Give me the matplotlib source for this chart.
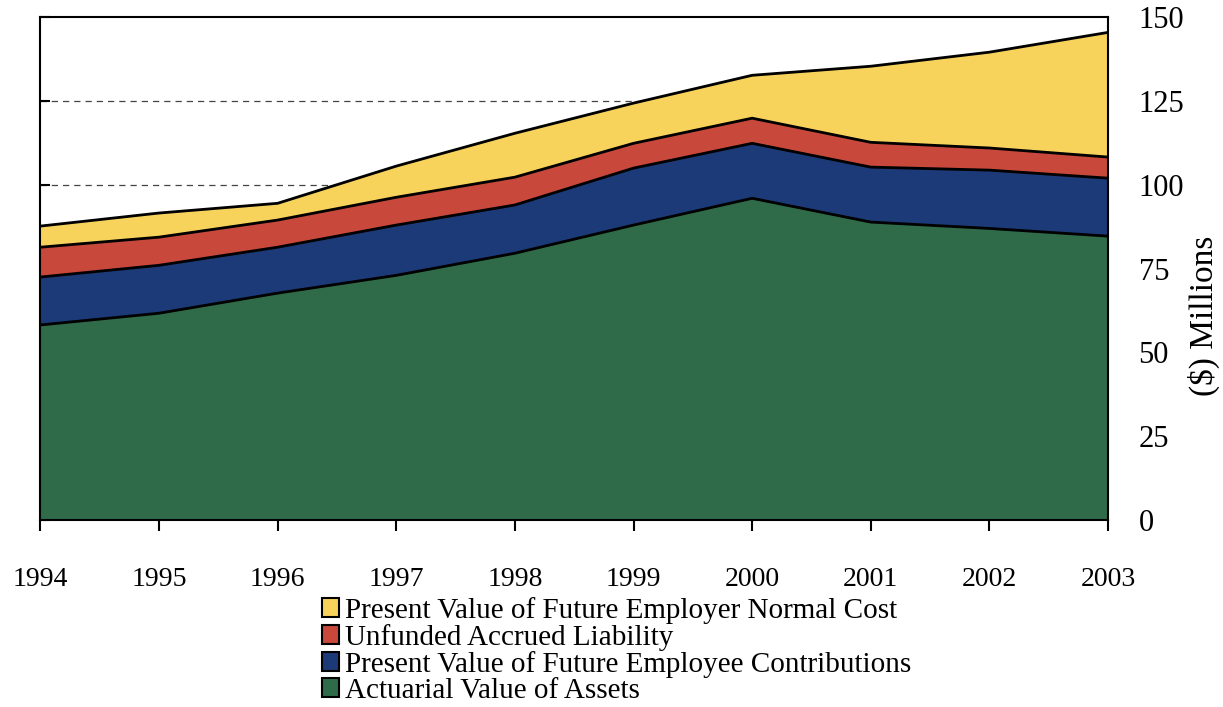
import matplotlib.pyplot as plt
import numpy as np
from matplotlib.patches import Patch

plt.rcParams['font.family'] = ['Liberation Serif', 'DejaVu Serif']

years = [1994, 1995, 1996, 1997, 1998, 1999, 2000, 2001, 2002, 2003]

# ($) millions
assets = [58.2, 61.7, 67.7, 73.0, 79.6, 88.0, 96.0, 88.9, 87.0, 84.7]
employee_contrib = [14.3, 14.3, 13.7, 15.0, 14.4, 17.0, 16.4, 16.4, 17.4, 17.3]
unfunded = [8.9, 8.4, 8.1, 8.3, 8.3, 7.4, 7.5, 7.4, 6.6, 6.3]
employer_cost = [6.3, 7.2, 5.0, 9.3, 13.1, 12.0, 12.8, 22.7, 28.6, 37.2]

labels = ['Actuarial Value of Assets',
          'Present Value of Future Employee Contributions',
          'Unfunded Accrued Liability',
          'Present Value of Future Employer Normal Cost']
colours = ['#2f6b48', '#1c3a78', '#c8483b', '#f8d35c']
y_ticks = [0, 25, 50, 75, 100, 125, 150]

fig = plt.figure(figsize=(12.23, 7.07), dpi=100)
ax = fig.add_axes([0.033, 0.2645, 0.873, 0.711])

layers = [assets, employee_contrib, unfunded, employer_cost]
base = np.zeros(len(years))
for vals, col in zip(layers, colours):
    top = base + np.array(vals)
    ax.fill_between(years, base, top, color=col, lw=0, zorder=2)
    ax.plot(years, top, color='black', lw=2, zorder=3)
    base = top

for t in y_ticks[1:-1]:
    ax.axhline(t, color='#444444', lw=0.9, ls=(0, (5, 4)), zorder=1)

ax.set_xlim(years[0], years[-1])
ax.set_ylim(0, 150)
ax.set_xticks(years)
ax.set_xticklabels([str(y) for y in years], fontsize=20)
ax.set_yticks(y_ticks)
ax.yaxis.tick_right()
ax.tick_params(axis='y', which='both', right=False, left=True, direction='in',
               length=7, width=1.5, labelsize=22, labelright=True, labelleft=False, pad=22)
ax.tick_params(axis='x', direction='out', length=8, width=1.5, pad=26)
for s in ax.spines.values():
    s.set_linewidth(1.5)
    s.set_zorder(4)

# axis title sits a bit below the middle, to the right of the tick labels
fig.text(0.984, 0.553, '($) Millions', rotation=90, ha='center', va='center', fontsize=24)

handles = [Patch(facecolor=c, edgecolor='black', lw=1.5) for c in colours]
fig.legend(handles[::-1], labels[::-1], loc='upper left',
           bbox_to_anchor=(0.263, 0.156), frameon=False, fontsize=21,
           handlelength=0.6, handleheight=0.6, handletextpad=0.2,
           labelspacing=0.0, borderpad=0, borderaxespad=0)

fig.savefig('out.png', dpi=100)
